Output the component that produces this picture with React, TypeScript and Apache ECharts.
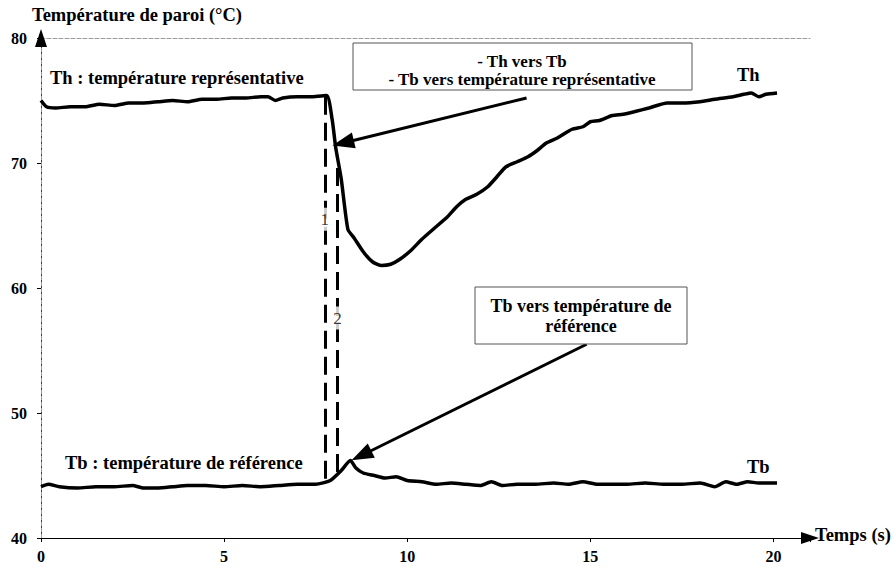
import React, { useEffect, useRef } from "react";
import * as echarts from "echarts";

// Time (s) / wall temperature (°C) readings
const thData: [number, number][] = [
  [0, 75.0], [0.15, 74.5], [0.4, 74.4], [0.8, 74.5], [1.2, 74.5], [1.6, 74.7], [2.0, 74.6],
  [2.4, 74.8], [2.8, 74.8], [3.2, 74.9], [3.6, 75.0], [4.0, 74.9], [4.4, 75.1], [4.8, 75.1],
  [5.2, 75.2], [5.6, 75.2], [6.0, 75.3], [6.2, 75.3], [6.4, 75.0], [6.6, 75.2], [7.0, 75.3],
  [7.4, 75.3], [7.8, 75.4], [7.95, 73.5], [8.05, 71.2], [8.2, 68.7], [8.38, 64.7], [8.55, 64.0],
  [8.8, 62.9], [9.05, 62.1], [9.3, 61.8], [9.55, 61.9], [9.8, 62.3], [10.1, 63.0], [10.4, 63.9],
  [10.75, 64.8], [11.1, 65.7], [11.35, 66.5], [11.6, 67.1], [11.9, 67.5], [12.2, 68.1],
  [12.45, 68.9], [12.7, 69.7], [13.0, 70.1], [13.3, 70.5], [13.55, 71.0], [13.8, 71.6],
  [14.1, 72.0], [14.5, 72.7], [14.8, 72.9], [15.0, 73.3], [15.25, 73.4], [15.6, 73.8],
  [15.9, 73.9], [16.2, 74.1], [16.6, 74.4], [17.1, 74.8], [17.5, 74.8], [18.0, 74.9],
  [18.4, 75.1], [18.9, 75.3], [19.2, 75.5], [19.4, 75.6], [19.6, 75.3], [19.8, 75.5], [20.1, 75.6],
];

const tbData: [number, number][] = [
  [0, 44.1], [0.2, 44.3], [0.5, 44.1], [1.0, 44.0], [1.5, 44.1], [2.0, 44.1], [2.5, 44.2],
  [2.8, 44.0], [3.2, 44.0], [3.6, 44.1], [4.0, 44.2], [4.5, 44.2], [5.0, 44.1], [5.5, 44.2],
  [6.0, 44.1], [6.5, 44.2], [7.0, 44.3], [7.5, 44.3], [7.9, 44.6], [8.2, 45.4], [8.45, 46.2],
  [8.6, 45.6], [8.8, 45.2], [9.1, 45.0], [9.4, 44.8], [9.7, 44.9], [10.0, 44.6], [10.4, 44.5],
  [10.8, 44.3], [11.2, 44.4], [11.6, 44.3], [12.0, 44.2], [12.3, 44.5], [12.6, 44.2],
  [13.0, 44.3], [13.5, 44.3], [14.0, 44.4], [14.4, 44.3], [14.8, 44.5], [15.2, 44.3],
  [15.6, 44.3], [16.0, 44.3], [16.5, 44.4], [17.0, 44.3], [17.5, 44.3], [18.0, 44.4],
  [18.4, 44.1], [18.7, 44.5], [19.0, 44.3], [19.3, 44.5], [19.6, 44.4], [20.1, 44.4],
];

const xTicks = [0, 5, 10, 15, 20];
const yTicks = [40, 50, 60, 70, 80];

// Transition markers (time, Th top, Tb bottom) and their label positions
const switch1: [number, number, number] = [7.75, 75.3, 44.3];
const switch2: [number, number, number] = [8.1, 69.6, 44.7];
const switchLabels: [number, number, string][] = [
  [7.75, 65.5, "1"],
  [8.1, 57.6, "2"],
];

// Arrow annotations (data coords): start, tip
const arrow1: [[number, number], [number, number]] = [[13.26, 75.2], [8.25, 71.6]];
const arrow2: [[number, number], [number, number]] = [[14.9, 55.5], [8.75, 46.6]];

const FONT = "'Liberation Serif', 'Times New Roman', serif";

export default function App() {
  const ref = useRef<HTMLDivElement>(null);
  useEffect(() => {
    if (!ref.current) return;
    const chart = echarts.init(ref.current, undefined, { renderer: "svg" });
    const boldText = (text: string, x: number, y: number, size = 18.5, align = "left") => ({
      type: "text",
      x,
      y,
      z: 100,
      style: {
        text,
        fontFamily: FONT,
        fontWeight: "bold",
        fontSize: size,
        fill: "#000",
        textAlign: align,
        align,
        textVerticalAlign: "middle",
        verticalAlign: "middle",
      },
    });
    const option: any = {
      animation: false,
      backgroundColor: "#fff",
      textStyle: { fontFamily: FONT },
      grid: { left: 41, right: 85, top: 38, bottom: 29, containLabel: false },
      xAxis: [
        {
          type: "value",
          min: 0,
          max: 21,
          interval: 5,
          axisLine: {
            show: true,
            symbol: ["none", "triangle"],
            symbolSize: [12, 18],
            lineStyle: { color: "#000", width: 1 },
          },
          axisTick: { show: true, length: 4, lineStyle: { color: "#000" } },
          axisLabel: {
            formatter: (v: number) => (xTicks.includes(v) ? String(v) : ""),
            fontFamily: FONT,
            fontWeight: "bold",
            fontSize: 16,
            color: "#000",
            margin: 10,
          },
          splitLine: { show: false },
        },
        {
          type: "value",
          position: "top",
          min: 0,
          max: 21,
          axisLine: { show: true, lineStyle: { color: "#999", type: "dashed", width: 1 } },
          axisTick: { show: false },
          axisLabel: { show: false },
          splitLine: { show: false },
        },
      ],
      yAxis: [
        {
          type: "value",
          min: 40,
          max: 80,
          interval: 10,
          axisLine: {
            show: true,
            symbol: ["none", "triangle"],
            symbolSize: [12, 18],
            lineStyle: { color: "#000", width: 1 },
          },
          axisTick: { show: true, length: 4, lineStyle: { color: "#000" } },
          axisLabel: {
            formatter: (v: number) => (yTicks.includes(v) ? String(v) : ""),
            fontFamily: FONT,
            fontWeight: "bold",
            fontSize: 16,
            color: "#000",
            margin: 14,
          },
          splitLine: { show: false },
        },
        {
          type: "value",
          position: "right",
          min: 40,
          max: 80,
          axisLine: { show: true, lineStyle: { color: "#999", type: "dashed", width: 1 } },
          axisTick: { show: false },
          axisLabel: { show: false },
          splitLine: { show: false },
        },
      ],
      series: [
        {
          name: "Th",
          type: "line",
          data: thData,
          showSymbol: false,
          smooth: 0.2,
          lineStyle: { color: "#000", width: 3.5 },
          z: 3,
          markLine: {
            silent: true,
            symbol: ["none", "none"],
            label: { show: false },
            animation: false,
            data: [
              [
                {
                  coord: [switch1[0], switch1[1]],
                  lineStyle: { color: "#000", width: 3, type: [18, 8] },
                },
                { coord: [switch1[0], switch1[2]] },
              ],
              [
                {
                  coord: [switch2[0], switch2[1]],
                  lineStyle: { color: "#000", width: 3, type: [18, 8] },
                },
                { coord: [switch2[0], switch2[2]] },
              ],
              [
                { coord: arrow1[0], symbol: "none", lineStyle: { color: "#000", width: 3, type: "solid" } },
                { coord: arrow1[1], symbol: "triangle", symbolSize: [16, 22] },
              ],
              [
                { coord: arrow2[0], symbol: "none", lineStyle: { color: "#000", width: 3, type: "solid" } },
                { coord: arrow2[1], symbol: "triangle", symbolSize: [16, 22] },
              ],
            ],
          },
        },
        {
          name: "Tb",
          type: "line",
          data: tbData,
          showSymbol: false,
          smooth: 0.2,
          lineStyle: { color: "#000", width: 3.5 },
          z: 3,
        },
        {
          name: "labels",
          type: "scatter",
          data: switchLabels.map((d) => [d[0], d[1], d[2]]),
          symbolSize: 1,
          itemStyle: { color: "#fff" },
          z: 5,
          label: {
            show: true,
            position: "inside",
            formatter: (p: any) => p.value[2],
            fontFamily: FONT,
            fontWeight: "normal",
            fontSize: 17,
            color: "#000",
            textBorderWidth: 0,
            backgroundColor: "#fff",
            padding: [3, 1],
          },
        },
      ],
      graphic: [
        boldText("Température de paroi (°C)", 32, 15),
        boldText("Th : température représentative", 50, 78),
        boldText("Tb : température de référence", 65, 463),
        boldText("Th", 737, 75),
        boldText("Tb", 747, 467),
        boldText("Temps (s)", 815, 535),
        {
          type: "rect",
          z: 90,
          shape: { x: 353, y: 43, width: 339, height: 47 },
          style: { fill: "#fff", stroke: "#555", lineWidth: 1 },
        },
        boldText("- Th vers Tb", 522, 61.5, 17, "center"),
        boldText("- Tb vers température représentative", 522, 79.5, 17, "center"),
        {
          type: "rect",
          z: 90,
          shape: { x: 475, y: 287, width: 212, height: 57 },
          style: { fill: "#fff", stroke: "#555", lineWidth: 1 },
        },
        boldText("Tb vers température de", 581, 306, 18, "center"),
        boldText("référence", 581, 326, 18, "center"),
      ],
    };
    chart.setOption(option);
    return () => chart.dispose();
  }, []);
  return (
    <div
      ref={ref}
      style={{ position: "fixed", left: 0, top: 0, width: 895, height: 567, background: "#fff" }}
    />
  );
}
